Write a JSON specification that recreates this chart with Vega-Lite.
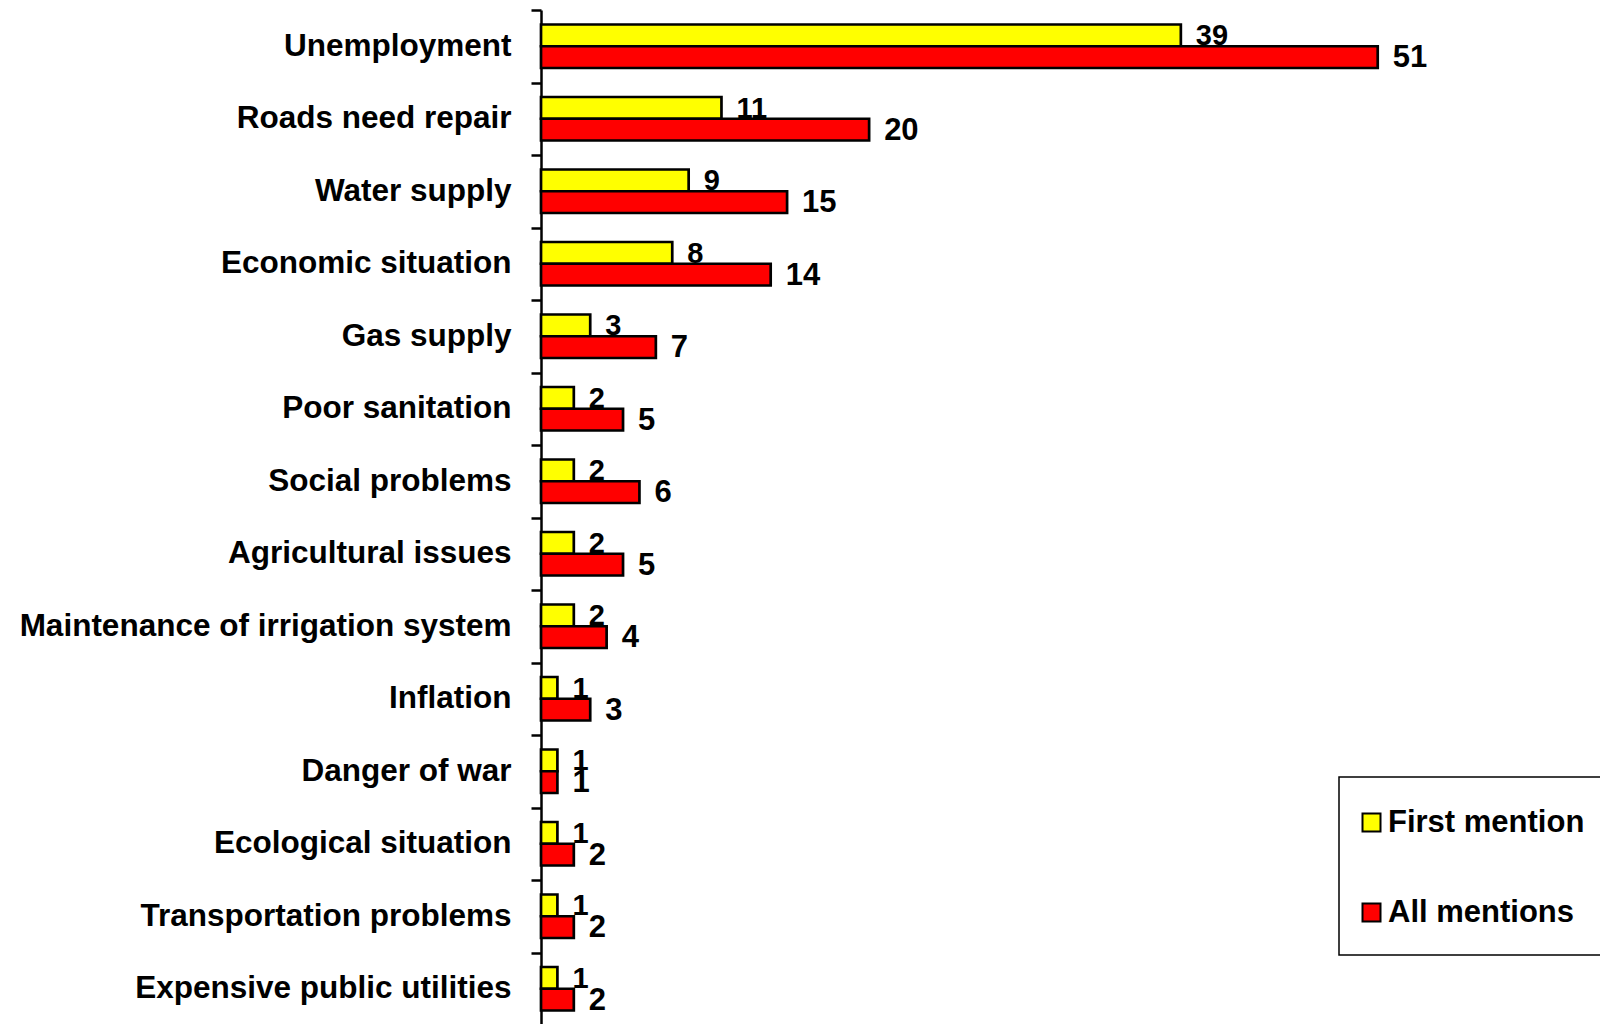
{
  "$schema": "https://vega.github.io/schema/vega-lite/v6.json",
  "autosize": {"type": "none"},
  "padding": {"left": 541, "top": 10, "right": 9, "bottom": 0},
  "width": 1050,
  "height": 1015,
  "background": "white",
  "config": {"view": {"stroke": null}, "font": "Liberation Sans"},
  "data": {"values": [
    {"category": "Unemployment", "series": "First mention", "value": 39},
    {"category": "Unemployment", "series": "All mentions", "value": 51},
    {"category": "Roads need repair", "series": "First mention", "value": 11},
    {"category": "Roads need repair", "series": "All mentions", "value": 20},
    {"category": "Water supply", "series": "First mention", "value": 9},
    {"category": "Water supply", "series": "All mentions", "value": 15},
    {"category": "Economic situation", "series": "First mention", "value": 8},
    {"category": "Economic situation", "series": "All mentions", "value": 14},
    {"category": "Gas supply", "series": "First mention", "value": 3},
    {"category": "Gas supply", "series": "All mentions", "value": 7},
    {"category": "Poor sanitation", "series": "First mention", "value": 2},
    {"category": "Poor sanitation", "series": "All mentions", "value": 5},
    {"category": "Social problems", "series": "First mention", "value": 2},
    {"category": "Social problems", "series": "All mentions", "value": 6},
    {"category": "Agricultural issues", "series": "First mention", "value": 2},
    {"category": "Agricultural issues", "series": "All mentions", "value": 5},
    {"category": "Maintenance of irrigation system", "series": "First mention", "value": 2},
    {"category": "Maintenance of irrigation system", "series": "All mentions", "value": 4},
    {"category": "Inflation", "series": "First mention", "value": 1},
    {"category": "Inflation", "series": "All mentions", "value": 3},
    {"category": "Danger of war", "series": "First mention", "value": 1},
    {"category": "Danger of war", "series": "All mentions", "value": 1},
    {"category": "Ecological situation", "series": "First mention", "value": 1},
    {"category": "Ecological situation", "series": "All mentions", "value": 2},
    {"category": "Transportation problems", "series": "First mention", "value": 1},
    {"category": "Transportation problems", "series": "All mentions", "value": 2},
    {"category": "Expensive public utilities", "series": "First mention", "value": 1},
    {"category": "Expensive public utilities", "series": "All mentions", "value": 2}
  ]},
  "encoding": {
    "y": {
      "field": "category", "type": "nominal", "sort": null,
      "scale": {"paddingInner": 0, "paddingOuter": 0},
      "axis": {
        "title": null,
        "domainColor": "black", "domainWidth": 2.5,
        "tickColor": "black", "tickWidth": 2.5, "tickSize": 10, "tickBand": "extent",
        "labelFont": "Liberation Sans", "labelFontSize": 31.5, "labelFontWeight": "bold",
        "labelColor": "black", "labelPadding": 20, "labelLimit": 700
      }
    },
    "yOffset": {
      "field": "series", "type": "nominal",
      "sort": ["First mention", "All mentions"],
      "scale": {"paddingInner": 0, "paddingOuter": 0.667}
    },
    "x": {
      "field": "value", "type": "quantitative",
      "scale": {"domain": [0, 64], "nice": false, "zero": true},
      "axis": null
    }
  },
  "layer": [
    {
      "mark": {"type": "bar", "stroke": "black", "strokeWidth": 2.7},
      "encoding": {
        "color": {
          "field": "series", "type": "nominal",
          "scale": {"domain": ["First mention", "All mentions"], "range": ["#FFFF00", "#FF0000"]},
          "legend": {
            "title": " ", "titleFontSize": 1, "titlePadding": 2,
            "orient": "none", "legendX": 798, "legendY": 767,
            "direction": "vertical",
            "fillColor": "white", "strokeColor": "black",
            "padding": 27, "rowPadding": 58,
            "symbolType": "square", "symbolSize": 324, "symbolOffset": -10,
            "symbolStrokeColor": "black", "symbolStrokeWidth": 2,
            "labelFont": "Liberation Sans", "labelFontSize": 31, "labelFontWeight": "bold",
            "labelColor": "black", "labelOffset": 1, "labelLimit": 400,
            "encode": {"legend": {"update": {"strokeWidth": {"value": 1.5}}}}
          }
        }
      }
    },
    {
      "transform": [{"filter": "datum.series === 'First mention'"}],
      "mark": {"type": "text", "align": "left", "baseline": "middle", "dx": 15, "dy": 1, "fontSize": 29, "fontWeight": "bold", "font": "Liberation Sans", "color": "black"},
      "encoding": {"text": {"field": "value", "type": "quantitative"}}
    },
    {
      "transform": [{"filter": "datum.series === 'All mentions'"}],
      "mark": {"type": "text", "align": "left", "baseline": "middle", "dx": 15, "dy": 1, "fontSize": 31, "fontWeight": "bold", "font": "Liberation Sans", "color": "black"},
      "encoding": {"text": {"field": "value", "type": "quantitative"}}
    }
  ]
}
